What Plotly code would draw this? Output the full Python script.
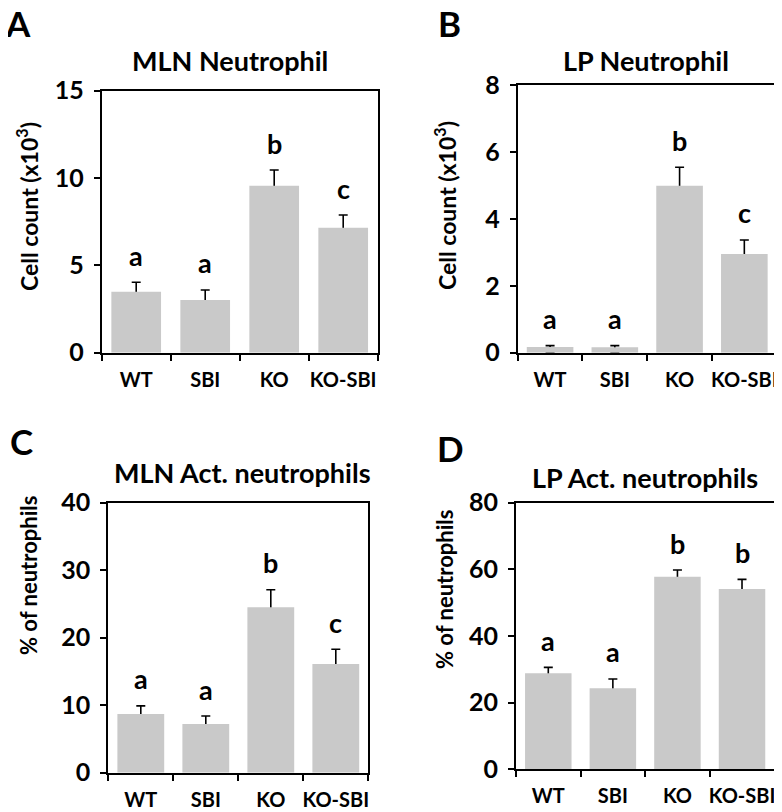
import plotly.graph_objects as go

# ---------------- data ----------------
categories = ["WT", "SBI", "KO", "KO-SBI"]

mln_neutrophil = [3.49, 3.02, 9.56, 7.16]
mln_neutrophil_err = [0.54, 0.57, 0.90, 0.72]
mln_neutrophil_letters = ["a", "a", "b", "c"]

lp_neutrophil = [0.17, 0.16, 4.99, 2.95]
lp_neutrophil_err = [0.04, 0.05, 0.55, 0.42]
lp_neutrophil_letters = ["a", "a", "b", "c"]

mln_act = [8.7, 7.2, 24.5, 16.1]
mln_act_err = [1.2, 1.2, 2.6, 2.2]
mln_act_letters = ["a", "a", "b", "c"]

lp_act = [28.8, 24.3, 57.8, 54.1]
lp_act_err = [1.8, 2.8, 2.0, 2.9]
lp_act_letters = ["a", "a", "b", "b"]

panel_titles = ["MLN Neutrophil", "LP Neutrophil", "MLN Act. neutrophils", "LP Act. neutrophils"]
panel_labels = ["A", "B", "C", "D"]
y_titles = ["Cell count (x10<sup>3</sup>)", "Cell count (x10<sup>3</sup>)",
            "% of neutrophils", "% of neutrophils"]
y_ranges = [[0, 15], [0, 8], [0, 40], [0, 80]]
y_dticks = [5, 2, 10, 20]

# ---------------- layout geometry (page pixels) ----------------
W, H = 782, 812
OFF = 8                      # default page body margin
FW, FH = W - OFF, H - OFF    # figure size
FONT = "Lato, 'Open Sans', sans-serif"
BAR = "#C9C9C9"


def px(x):
    return (x - OFF) / FW


def py(y):
    return 1 - (y - OFF) / FH


# plot boxes: left, right, top, bottom
boxes = [
    (101.7, 377.7, 90.7, 352.7),
    (517.7, 776.7, 85.0, 352.7),
    (108.3, 368.3, 502.7, 772.7),
    (516.0, 774.3, 502.7, 769.3),
]
title_pos = [(230, 60), (646, 60), (242, 473), (645, 478)]
label_pos = [(18, 23), (449, 23), (21, 441), (450, 448)]
ytitle_pos = [(28, 207), (446, 206), (28, 576), (444, 590)]
ytitle_sizes = [23, 23, 22, 22]

series = [
    (mln_neutrophil, mln_neutrophil_err, mln_neutrophil_letters),
    (lp_neutrophil, lp_neutrophil_err, lp_neutrophil_letters),
    (mln_act, mln_act_err, mln_act_letters),
    (lp_act, lp_act_err, lp_act_letters),
]

fig = go.Figure()
annotations = []
layout_axes = {}

for i, ((vals, errs, letters), box) in enumerate(zip(series, boxes)):
    n = "" if i == 0 else str(i + 1)
    xa, ya = "x" + n, "y" + n
    left, right, top, bottom = box
    span = y_ranges[i][1] - y_ranges[i][0]
    hide = span * 0.02  # lower end of the error stem tucked inside the bar
    tops = [v + e for v, e in zip(vals, errs)]
    # error bars (drawn first, so the grey bars cover their lower end)
    fig.add_trace(go.Bar(
        x=categories, y=tops, xaxis=xa, yaxis=ya,
        width=0.72, marker=dict(color="rgba(0,0,0,0)", line=dict(width=0)),
        error_y=dict(type="data", symmetric=False, array=[0] * len(errs),
                     arrayminus=[e + hide for e in errs], color="black",
                     thickness=1.6, width=4.5),
        showlegend=False, hoverinfo="skip",
    ))
    fig.add_trace(go.Bar(
        x=categories, y=vals, xaxis=xa, yaxis=ya,
        width=0.72, marker=dict(color=BAR, line=dict(width=0)),
        showlegend=False, hoverinfo="skip",
    ))
    layout_axes["xaxis" + n] = dict(
        domain=[px(left), px(right)], anchor=ya, automargin=False,
        type="category", range=[-0.5, 3.5],
        showline=True, linecolor="black", linewidth=2, mirror=True,
        ticks="outside", tickson="boundaries", ticklen=6, tickwidth=2, tickcolor="black",
        tickangle=0,
        tickfont=dict(family=FONT, size=20, color="black", weight="bold"),
        ticklabelstandoff=8, showgrid=False, zeroline=False, fixedrange=True,
    )
    layout_axes["yaxis" + n] = dict(
        domain=[py(bottom), py(top)], anchor=xa, automargin=False,
        range=y_ranges[i], dtick=y_dticks[i], tick0=0,
        showline=True, linecolor="black", linewidth=2, mirror=True,
        ticks="outside", ticklen=6, tickwidth=2, tickcolor="black",
        tickfont=dict(family=FONT, size=25, color="black", weight="bold"),
        ticklabelstandoff=5, showgrid=False, zeroline=False, fixedrange=True,
    )
    # significance letters
    for c, t, l in zip(categories, tops, letters):
        annotations.append(dict(
            x=c, y=t, xref=xa, yref=ya, text=l, showarrow=False,
            yanchor="middle", yshift=27,
            font=dict(family=FONT, size=27, color="black", weight="bold"),
        ))
    # panel title
    tx, ty = title_pos[i]
    annotations.append(dict(
        x=px(tx), y=py(ty), xref="paper", yref="paper", text=panel_titles[i],
        showarrow=False, xanchor="center", yanchor="middle",
        font=dict(family=FONT, size=27, color="black", weight="bold"),
    ))
    # panel letter
    lx, ly = label_pos[i]
    annotations.append(dict(
        x=px(lx), y=py(ly), xref="paper", yref="paper", text=panel_labels[i],
        showarrow=False, xanchor="center", yanchor="middle",
        font=dict(family=FONT, size=35, color="black", weight="bold"),
    ))
    # y-axis title
    yx, yy = ytitle_pos[i]
    annotations.append(dict(
        x=px(yx), y=py(yy), xref="paper", yref="paper", text=y_titles[i],
        showarrow=False, xanchor="center", yanchor="middle", textangle=-90,
        font=dict(family=FONT, size=ytitle_sizes[i], color="black", weight="bold"),
    ))

fig.update_layout(
    width=FW, height=FH,
    margin=dict(l=0, r=0, t=0, b=0, autoexpand=False),
    paper_bgcolor="white", plot_bgcolor="white",
    barmode="overlay",
    annotations=annotations,
    **layout_axes,
)

fig.write_html("out.html")
